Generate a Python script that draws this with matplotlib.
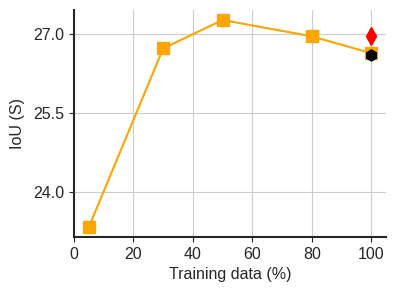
import numpy as np
import matplotlib
matplotlib.use('Agg')
import matplotlib.pyplot as plt
import seaborn as sns

sns.set_style('ticks', {'axes.grid': True})
plt.rcParams['font.family'] = ['Liberation Sans', 'DejaVu Sans']

train_pct = [5, 30, 50, 80, 100]
iou = [23.34, 26.73, 27.27, 26.96, 26.64]
red_x, red_y = [100], [26.96]
black_x, black_y = [100], [26.60]

fig = plt.figure(figsize=(3.96, 2.96), dpi=100)
ax = fig.add_axes([74/396, 1 - 237/296, (386-74)/396, (237-10)/296])

ax.plot(train_pct, iou, color='orange', marker='s', markersize=9, linewidth=1.5)
ax.plot(red_x, red_y, color='red', marker='d', markersize=9, linestyle='none')
ax.plot(black_x, black_y, color='black', marker='h', markersize=8, linestyle='none')

ax.set_xlim(0, 105)
ax.set_ylim(23.15, 27.46)
ax.set_yticks([24.0, 25.5, 27.0])
ax.set_yticklabels(['24.0', '25.5', '27.0'])
ax.set_xticks([0, 20, 40, 60, 80, 100])
ax.tick_params(labelsize=11.5, colors='#262626')
ax.set_xlabel('Training data (%)', fontsize=11.5)
ax.set_ylabel('IoU (S)', fontsize=11.5, labelpad=6)
for s in ['left', 'bottom']:
    ax.spines[s].set_linewidth(1.5)
    ax.spines[s].set_color('#262626')
sns.despine(ax=ax)

fig.savefig('out.png', dpi=100)
